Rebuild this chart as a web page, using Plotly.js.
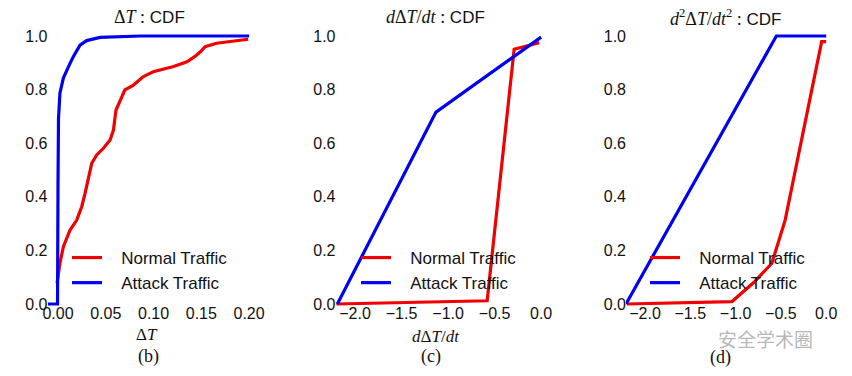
<!DOCTYPE html>
<html>
<head>
<meta charset="utf-8">
<script src="https://cdn.plot.ly/plotly-3.0.1.min.js"></script>
<style>html,body{margin:0;padding:0;background:#fff;}#chart{width:852px;height:376px;}</style>
</head>
<body>
<div id="chart"></div>
<script>
// ---- Panel (b): ΔT CDF ----
const dtNormalX = [-0.001, 0.002, 0.0056, 0.0126, 0.0196, 0.0248, 0.0283, 0.0318, 0.0353, 0.0405, 0.0475, 0.0545, 0.058, 0.0607, 0.065, 0.070, 0.079, 0.089, 0.0998, 0.121, 0.135, 0.143, 0.149, 0.154, 0.166, 0.184, 0.199];
const dtNormalY = [0.077, 0.152, 0.214, 0.276, 0.313, 0.363, 0.413, 0.475, 0.525, 0.556, 0.581, 0.612, 0.649, 0.724, 0.761, 0.799, 0.817, 0.848, 0.867, 0.886, 0.904, 0.923, 0.941, 0.960, 0.973, 0.981, 0.988];
const dtAttackX = [-0.0105, -0.0005, 0.0, 0.0005, 0.002, 0.0056, 0.011, 0.016, 0.023, 0.030, 0.044, 0.086, 0.2];
const dtAttackY = [0.0, 0.0, 0.45, 0.69, 0.787, 0.843, 0.886, 0.923, 0.966, 0.983, 0.995, 1.0, 1.0];

// ---- Panel (c): dΔT/dt CDF ----
const d1NormalX = [-2.2, -0.58, -0.29, -0.02];
const d1NormalY = [0.0, 0.012, 0.951, 0.975];
const d1AttackX = [-2.19, -1.13, 0.0];
const d1AttackY = [0.0, 0.716, 0.996];

// ---- Panel (d): d²ΔT/dt² CDF ----
const d2NormalX = [-2.2, -1.04, -0.80, -0.60, -0.453, -0.274, -0.05, 0.0];
const d2NormalY = [0.0, 0.009, 0.08, 0.152, 0.313, 0.612, 0.979, 0.979];
const d2AttackX = [-2.21, -0.55, 0.0];
const d2AttackY = [0.0, 1.0, 1.0];

const seriesNames = ["Normal Traffic", "Attack Traffic"];
const panelLabels = ["(b)", "(c)", "(d)"];

const RED = "#f00000", BLUE = "#0000f0";
const LW = 3.2;
const SERIF = "'Liberation Serif', 'DejaVu Serif', serif";
const SANS = "'Liberation Sans', Arial, sans-serif";
const PAD = "\u00a0\u00a0\u00a0";

function tr(x, y, name, color, xa, ya, lg) {
  return {x: x, y: y, name: PAD + name, type: "scatter", mode: "lines",
    line: {color: color, width: LW}, xaxis: xa, yaxis: ya, legend: lg,
    hoverinfo: "skip"};
}

const data = [
  tr(dtNormalX, dtNormalY, seriesNames[0], RED, "x", "y", "legend"),
  tr(dtAttackX, dtAttackY, seriesNames[1], BLUE, "x", "y", "legend"),
  tr(d1NormalX, d1NormalY, seriesNames[0], RED, "x2", "y2", "legend2"),
  tr(d1AttackX, d1AttackY, seriesNames[1], BLUE, "x2", "y2", "legend2"),
  tr(d2NormalX, d2NormalY, seriesNames[0], RED, "x3", "y3", "legend3"),
  tr(d2AttackX, d2AttackY, seriesNames[1], BLUE, "x3", "y3", "legend3")
];

const W = 852, H = 376;
const px = v => v / W;
const py = v => 1 - v / H;
const yDom = [py(308), py(32)];

function xax(dom, range, dtick, fmt, anchor) {
  return {domain: dom, range: range, dtick: dtick, tick0: 0, tickformat: fmt,
    showgrid: false, zeroline: false, showline: false, ticks: "",
    automargin: false, ticklabelstandoff: -6, anchor: anchor,
    tickfont: {family: SANS, size: 16, color: "#111"}, fixedrange: true};
}
function yax(anchor) {
  return {domain: yDom, range: [-0.015, 1.015], dtick: 0.2, tick0: 0, tickformat: ".1f",
    showgrid: false, zeroline: false, showline: false, ticks: "",
    automargin: false, anchor: anchor, ticklabelstandoff: -1,
    tickfont: {family: SANS, size: 16, color: "#111"}, fixedrange: true};
}

function legendAt(xpx) {
  return {x: px(xpx), y: py(240), xanchor: "left", yanchor: "top",
    bgcolor: "rgba(0,0,0,0)", borderwidth: 0, itemwidth: 30, tracegroupgap: 0,
    font: {family: SANS, size: 17, color: "#111"}};
}

function ann(xpx, ypx, text, font) {
  return {xref: "paper", yref: "paper", x: px(xpx), y: py(ypx), text: text,
    showarrow: false, xanchor: "center", yanchor: "middle", font: font};
}
const mS = t => "<span style=\"font-family:" + SERIF + ";font-size:18px\">" + t + "</span>";
const titleFont = {family: SANS, size: 17, color: "#111"};
const serifFont = {family: SERIF, size: 17, color: "#111"};
const serifLab = {family: SERIF, size: 18, color: "#111"};

const annotations = [
  ann(149, 17, mS("Δ<i>T</i> :") + " CDF", titleFont),
  ann(435, 17, mS("<i>d</i>Δ<i>T</i>/<i>dt</i> :") + " CDF", titleFont),
  ann(725, 17, mS("<i>d</i><sup>2</sup>Δ<i>T</i>/<i>dt</i><sup>2</sup> :") + " CDF", titleFont),
  ann(147, 334, "Δ<i>T</i>", serifFont),
  ann(436, 336, "<i>d</i>Δ<i>T</i>/<i>dt</i>", serifFont),
  ann(148, 356, panelLabels[0], serifLab),
  ann(431, 356, panelLabels[1], serifLab),
  ann(720, 357, panelLabels[2], serifLab),
  ann(765, 338, "安全学术圈", {family: "'Noto Sans CJK SC', sans-serif", size: 19, color: "rgba(120,120,120,0.55)"})
];

const layout = {
  width: W, height: H,
  margin: {l: 0, r: 0, t: 0, b: 0, pad: 0},
  paper_bgcolor: "#fff", plot_bgcolor: "rgba(0,0,0,0)",
  showlegend: true,
  xaxis: xax([px(47.5), px(251)], [-0.011, 0.202], 0.05, ".2f", "y"),
  yaxis: yax("x"),
  xaxis2: xax([px(335.5), px(543)], [-2.21, 0.02], 0.5, ".1f", "y2"),
  yaxis2: yax("x2"),
  xaxis3: xax([px(626), px(828)], [-2.21, 0.02], 0.5, ".1f", "y3"),
  yaxis3: yax("x3"),
  legend: legendAt(67), legend2: legendAt(356), legend3: legendAt(645),
  annotations: annotations
};

Plotly.newPlot("chart", data, layout, {displayModeBar: false, staticPlot: true});
</script>
</body>
</html>
